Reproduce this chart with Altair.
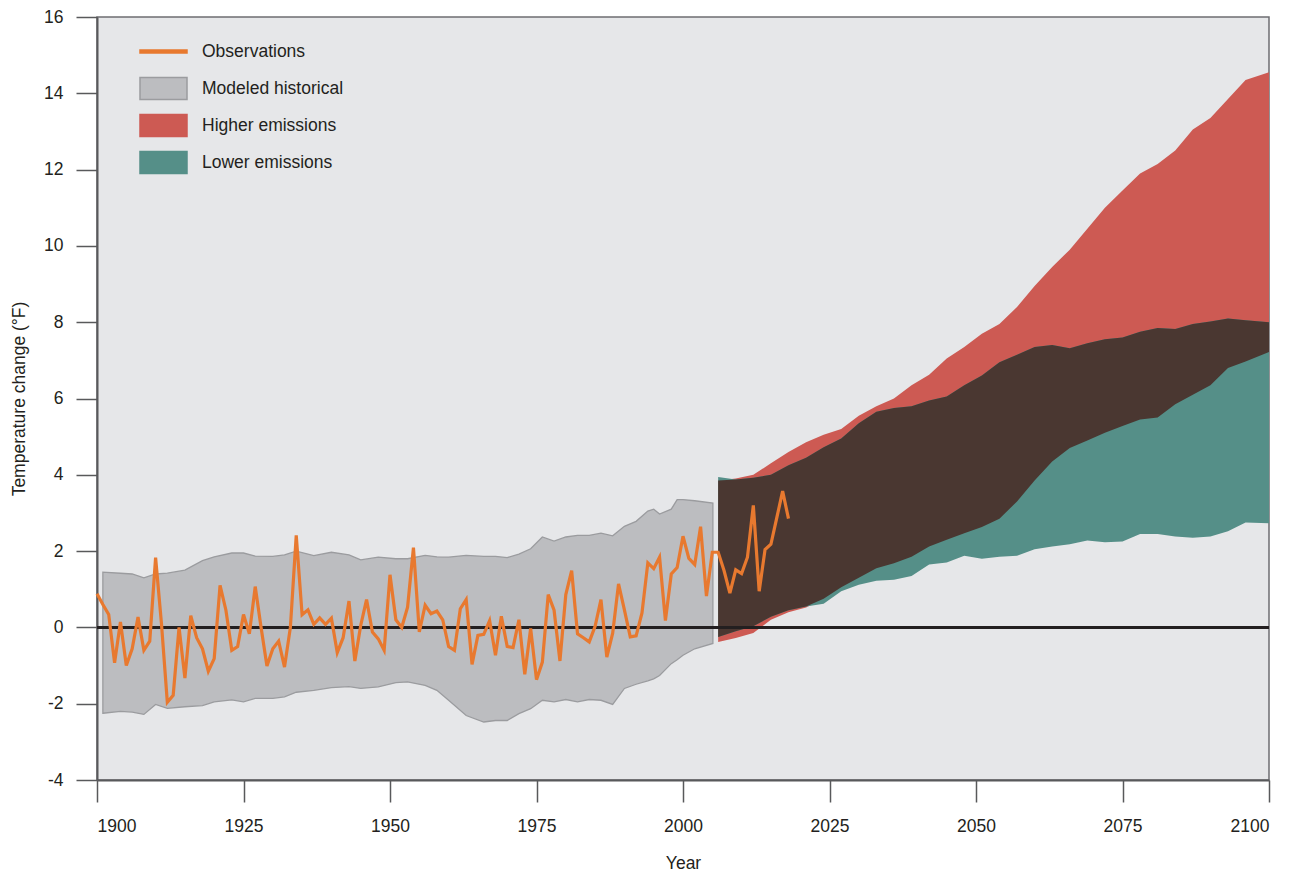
import altair as alt
import pandas as pd

# ---------------- data ----------------
obs_years = list(range(1900, 2019))
obs_values = [
    0.88, 0.6, 0.34, -0.93, 0.14, -1.0, -0.56, 0.27, -0.6, -0.36,
    1.83, 0.1, -1.96, -1.78, 0.0, -1.33, 0.31, -0.27, -0.56, -1.15,
    -0.82, 1.1, 0.45, -0.6, -0.5, 0.34, -0.17, 1.07, 0.0, -1.01,
    -0.56, -0.36, -1.04, 0.0, 2.41, 0.33, 0.46, 0.08, 0.25, 0.08,
    0.24, -0.66, -0.27, 0.69, -0.88, 0.05, 0.73, -0.12, -0.3, -0.6,
    1.38, 0.2, 0.0, 0.53, 2.09, -0.12, 0.58, 0.36, 0.43, 0.2,
    -0.5, -0.6, 0.49, 0.73, -0.97, -0.21, -0.18, 0.18, -0.73, 0.29,
    -0.5, -0.53, 0.2, -1.23, -0.03, -1.37, -0.91, 0.86, 0.45, -0.88,
    0.86, 1.49, -0.17, -0.27, -0.38, 0.03, 0.73, -0.78, -0.15, 1.14,
    0.46, -0.25, -0.22, 0.38, 1.69, 1.54, 1.84, 0.18, 1.4, 1.57,
    2.39, 1.81, 1.65, 2.64, 0.82, 1.97, 1.97, 1.49, 0.9, 1.51,
    1.41, 1.84, 3.2, 0.95, 2.04, 2.18, 2.87, 3.57, 2.85,
]

hist_years = [1901, 1904, 1906, 1908, 1910, 1912, 1915, 1918, 1920, 1923,
              1925, 1927, 1930, 1932, 1934, 1937, 1940, 1943, 1945, 1948,
              1951, 1953, 1956, 1958, 1960, 1963, 1966, 1968, 1970, 1972,
              1974, 1976, 1978, 1980, 1982, 1984, 1986, 1988, 1990, 1992,
              1994, 1995, 1996, 1998, 1999, 2000, 2002, 2005.1]
hist_upper = [1.45, 1.42, 1.4, 1.3, 1.4, 1.42, 1.5, 1.75, 1.85, 1.95,
              1.95, 1.87, 1.86, 1.9, 2.0, 1.88, 1.97, 1.9, 1.77, 1.84,
              1.8, 1.8, 1.89, 1.85, 1.84, 1.89, 1.86, 1.86, 1.83, 1.92,
              2.06, 2.37, 2.26, 2.37, 2.41, 2.41, 2.47, 2.4, 2.65, 2.78,
              3.05, 3.1, 2.97, 3.1, 3.35, 3.35, 3.32, 3.26]
hist_lower = [-2.25, -2.2, -2.22, -2.28, -2.02, -2.12, -2.08, -2.05, -1.95, -1.9,
              -1.95, -1.86, -1.86, -1.82, -1.7, -1.65, -1.58, -1.55, -1.6, -1.56,
              -1.45, -1.43, -1.52, -1.65, -1.91, -2.31, -2.48, -2.44, -2.44, -2.26,
              -2.13, -1.91, -1.95, -1.89, -1.95, -1.89, -1.91, -2.02, -1.6, -1.49,
              -1.4, -1.35, -1.26, -0.95, -0.85, -0.73, -0.56, -0.42]

proj_years = [2006, 2009, 2012, 2015, 2018, 2021, 2024, 2027, 2030, 2033,
              2036, 2039, 2042, 2045, 2048, 2051, 2054, 2057, 2060, 2063,
              2066, 2069, 2072, 2075, 2078, 2081, 2084, 2087, 2090, 2093,
              2096, 2100]
high_upper = [3.85, 3.9, 4.0, 4.3, 4.6, 4.85, 5.05, 5.2, 5.55, 5.8,
              6.0, 6.35, 6.62, 7.05, 7.35, 7.7, 7.95, 8.4, 8.95, 9.45,
              9.9, 10.45, 11.0, 11.45, 11.9, 12.15, 12.5, 13.05, 13.35, 13.85,
              14.35, 14.55]
high_lower = [-0.38, -0.28, -0.15, 0.2, 0.4, 0.52, 0.75, 1.05, 1.3, 1.55,
              1.68, 1.85, 2.12, 2.3, 2.47, 2.63, 2.85, 3.3, 3.85, 4.35,
              4.7, 4.9, 5.1, 5.28, 5.45, 5.5, 5.85, 6.1, 6.35, 6.8,
              6.97, 7.22]
low_upper = [3.94, 3.88, 3.92, 4.0, 4.25, 4.45, 4.72, 4.95, 5.35, 5.65,
             5.75, 5.8, 5.95, 6.05, 6.35, 6.6, 6.95, 7.15, 7.35, 7.4,
             7.32, 7.45, 7.55, 7.6, 7.75, 7.85, 7.82, 7.95, 8.02, 8.1,
             8.05, 8.0]
low_lower = [-0.25, -0.1, 0.03, 0.28, 0.45, 0.55, 0.62, 0.95, 1.12, 1.22,
             1.25, 1.35, 1.65, 1.7, 1.88, 1.8, 1.85, 1.88, 2.05, 2.12,
             2.18, 2.28, 2.23, 2.25, 2.45, 2.45, 2.38, 2.35, 2.38, 2.52,
             2.75, 2.73]

x_ticks = [1900, 1925, 1950, 1975, 2000, 2025, 2050, 2075, 2100]
y_ticks = [-4, -2, 0, 2, 4, 6, 8, 10, 12, 14, 16]

series_names = ["Observations", "Modeled historical", "Higher emissions", "Lower emissions"]

# ---------------- styling ----------------
FONT = "Liberation Sans"
FS = 17.5
TEXT = "#231f20"
AXIS = "#58595b"
C_OBS = "#e8792f"
C_HIST = "#bcbdc0"
C_HIST_EDGE = "#9b9c9f"
C_HIGH = "#cd5a53"
C_LOW = "#558f88"
C_BOTH = "#4a3731"

obs = pd.DataFrame({"year": obs_years, "temp": obs_values})
hist = pd.DataFrame({"year": hist_years, "lo": hist_lower, "hi": hist_upper})
proj = pd.DataFrame({"year": proj_years, "hu": high_upper, "hl": high_lower,
                     "lu": low_upper, "ll": low_lower})
proj["olo"] = proj[["hl", "ll"]].max(axis=1)
proj["ohi"] = proj[["hu", "lu"]].min(axis=1)
zero = pd.DataFrame({"y": [0]})
legend_df = pd.DataFrame({"series": series_names, "year": [1900] * 4, "temp": [0] * 4})

x_scale = alt.Scale(domain=[1900, 2100], nice=False)
y_scale = alt.Scale(domain=[-4, 16], nice=False)

x_axis = alt.Axis(values=x_ticks, labelExpr="'' + datum.value", tickSize=22, tickWidth=1.5,
                  tickColor=AXIS, domainColor=AXIS, domainWidth=2, grid=False,
                  labelFontSize=FS, labelColor=TEXT, labelPadding=15, labelFont=FONT,
                  title="Year", titleFont=FONT, titleFontSize=FS, titleFontWeight="normal",
                  titleColor=TEXT, titleBaseline="alphabetic", titleY=88)
y_axis = alt.Axis(values=y_ticks, labelExpr="'' + datum.value", tickSize=21, tickWidth=1.5,
                  tickColor=AXIS, domainColor=AXIS, domainWidth=2, grid=False,
                  labelFontSize=FS, labelColor=TEXT, labelPadding=13, labelFont=FONT,
                  title="Temperature change (°F)", titleFont=FONT, titleFontSize=FS,
                  titleFontWeight="normal", titleColor=TEXT, titlePadding=15)


def xq(field="year"):
    return alt.X(f"{field}:Q", scale=x_scale, axis=x_axis)


def yq(field):
    return alt.Y(f"{field}:Q", scale=y_scale, axis=y_axis)


hist_band = alt.Chart(hist).mark_area(fill=C_HIST, stroke=C_HIST_EDGE, strokeWidth=1.3).encode(
    x=xq(), y=yq("lo"), y2="hi:Q")
high_band = alt.Chart(proj).mark_area(color=C_HIGH).encode(x=xq(), y=yq("hl"), y2="hu:Q")
low_band = alt.Chart(proj).mark_area(color=C_LOW).encode(x=xq(), y=yq("ll"), y2="lu:Q")
both_band = alt.Chart(proj).mark_area(color=C_BOTH).encode(x=xq(), y=yq("olo"), y2="ohi:Q")

zero_line = alt.Chart(zero).mark_rule(color=TEXT, strokeWidth=3).encode(y=yq("y"))

obs_line = alt.Chart(obs).mark_line(color=C_OBS, strokeWidth=3.2, strokeJoin="miter").encode(
    x=xq(), y=yq("temp"))

rect_path = "M-1,-0.47L1,-0.47L1,0.47L-1,0.47Z"
line_path = "M-1,-0.06L1,-0.06L1,0.06L-1,0.06Z"

legend = alt.Legend(
    title=None, orient="none", legendX=42, legendY=22, padding=0,
    symbolSize=2209, clipHeight=25, rowPadding=12, labelOffset=14,
    labelFont=FONT, labelFontSize=FS, labelColor=TEXT, symbolOpacity=1,
    symbolStrokeWidth=1.5,
)

legend_layer = alt.Chart(legend_df).transform_filter("false").mark_point(
    filled=True, opacity=1).encode(
    x=xq(), y=yq("temp"),
    fill=alt.Fill("series:N", scale=alt.Scale(domain=series_names,
                  range=[C_OBS, C_HIST, C_HIGH, C_LOW]), legend=legend),
    stroke=alt.Stroke("series:N", scale=alt.Scale(domain=series_names,
                      range=[C_OBS, C_HIST_EDGE, C_HIGH, C_LOW]), legend=legend),
    shape=alt.Shape("series:N", scale=alt.Scale(domain=series_names,
                    range=[line_path, rect_path, rect_path, rect_path]), legend=legend),
)

chart = alt.layer(
    hist_band, high_band, low_band, both_band, zero_line, obs_line, legend_layer
).properties(
    width=1172, height=763,
    autosize=alt.AutoSizeParams(type="none"),
    padding={"left": 89, "top": 9, "right": 20, "bottom": 91},
).configure(font=FONT).configure_view(
    fill="#e6e7e9", stroke="#6d6e71", strokeWidth=1.5
)

chart.save("out.html", embed_options={"renderer": "svg", "actions": False})
